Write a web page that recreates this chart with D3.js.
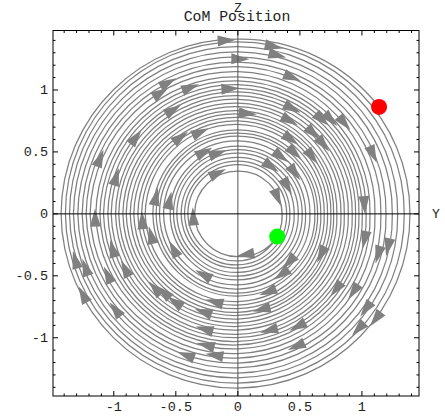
<!DOCTYPE html>
<html><head><meta charset="utf-8">
<script src="https://cdn.jsdelivr.net/npm/d3@7"></script>
<style>body{margin:0;background:#fff}</style>
</head><body>
<svg id="c" width="445" height="416"></svg>
<script>
const title = "CoM Position";
const xLabel = "Y";
const yLabel = "Z";
const xTicks = [-1, -0.5, 0, 0.5, 1];
const yTicks = [-1, -0.5, 0, 0.5, 1];
const xTickLabels = ["-1", "-0.5", "0", "0.5", "1"];
const yTickLabels = ["-1", "-0.5", "0", "0.5", "1"];
const startPoint = [0.317, -0.183];
const endPoint = [1.138, 0.863];
// radii where the clockwise spiral crosses each half-axis, turn by turn
const rBottom = [0.345,0.380,0.412,0.438,0.473,0.503,0.533,0.573,0.607,0.640,0.664,0.708,0.736,0.765,0.795,0.820,0.849,0.879,0.909,0.938,0.972,0.999,1.030,1.058,1.090,1.128,1.164,1.204,1.242,1.285,1.323,1.366,1.406];
const rLeft   = [0.349,0.403,0.430,0.457,0.492,0.519,0.546,0.599,0.632,0.659,0.685,0.747,0.776,0.806,0.839,0.868,0.900,0.927,0.960,0.986,1.021,1.048,1.083,1.112,1.145,1.191,1.223,1.255,1.290,1.325,1.357,1.390,1.425];
const rTop    = [0.345,0.398,0.425,0.456,0.490,0.519,0.546,0.590,0.627,0.651,0.677,0.722,0.750,0.778,0.806,0.833,0.866,0.893,0.925,0.954,0.985,1.012,1.043,1.073,1.105,1.148,1.188,1.225,1.268,1.307,1.349,1.389,1.410];
const rRight  = [0.357,0.393,0.419,0.454,0.487,0.519,0.546,0.581,0.621,0.643,0.669,0.696,0.723,0.750,0.772,0.798,0.831,0.858,0.890,0.922,0.949,0.976,1.003,1.034,1.065,1.105,1.153,1.194,1.245,1.288,1.341,1.387];
// arrowhead positions (Y, Z)
const arrowY = [-0.09,-0.56,-0.62,-0.38,-0.06,-0.52,-0.82,-0.46,-0.30,-0.27,-0.16,-0.16,-1.11,-0.98,-0.66,-0.55,-1.15,
  0.29,0.32,0.02,0.44,0.08,0.44,0.42,0.68,0.75,0.86,0.61,0.43,0.69,0.46,0.35,0.60,1.09,0.27,0.46,0.40,0.32,1.02,
  -0.77,-0.36,-1.31,-1.23,-1.25,-1.01,-1.05,-0.91,-0.70,-0.52,-0.99,-0.67,-0.60,-0.51,-0.28,-0.19,-0.28,-0.27,-0.26,-0.19,-0.42,
  0.06,0.41,0.35,0.67,1.02,1.21,1.13,0.79,0.93,1.03,1.11,0.97,0.24,0.19,0.48,0.25,0.47];
const arrowZ = [1.40,1.06,0.98,1.02,1.01,0.84,0.62,0.62,0.66,0.50,0.49,0.33,0.45,0.30,0.14,0.11,-0.03,
  1.35,1.28,1.25,1.10,0.81,0.85,0.75,0.76,0.76,0.73,0.65,0.60,0.56,0.49,0.46,0.46,0.48,0.38,0.33,0.22,0.13,0.07,
  -0.05,-0.02,-0.37,-0.43,-0.65,-0.28,-0.49,-0.44,-0.17,-0.28,-0.77,-0.60,-0.63,-0.71,-0.49,-0.71,-0.79,-0.93,-1.06,-1.14,-1.14,
  -0.33,-0.39,-0.49,-0.33,-0.21,-0.27,-0.33,-0.61,-0.63,-0.77,-0.85,-0.93,-0.63,-0.77,-0.91,-0.94,-1.07];

const svg = d3.select("#c");
const x = d3.scaleLinear().domain([-1.49, 1.46]).range([53, 419]);
const y = d3.scaleLinear().domain([-1.47, 1.48]).range([396, 30.5]);
const gray = "#808080";
const mono = "'Liberation Mono', 'DejaVu Sans Mono', monospace";

// spiral nodes (angle: mathematical, counter-clockwise from +Y; motion is clockwise)
const deg = Math.PI / 180;
const nodes = [];
nodes.push({t: Math.atan2(startPoint[1], startPoint[0]), r: Math.hypot(startPoint[0], startPoint[1])});
for (let k = 0; k < rBottom.length; k++) {
  nodes.push({t: (-90 - 360 * k) * deg, r: rBottom[k]});
  nodes.push({t: (-180 - 360 * k) * deg, r: rLeft[k]});
  nodes.push({t: (-270 - 360 * k) * deg, r: rTop[k]});
  if (k < rRight.length) nodes.push({t: (-360 - 360 * k) * deg, r: rRight[k]});
}
nodes.push({t: Math.atan2(endPoint[1], endPoint[0]) - 360 * rBottom.length * deg, r: Math.hypot(endPoint[0], endPoint[1])});

const p = d3.path();
p.moveTo(x(nodes[0].r * Math.cos(nodes[0].t)), y(nodes[0].r * Math.sin(nodes[0].t)));
for (let i = 1; i < nodes.length; i++) {
  const a = nodes[i - 1], b = nodes[i];
  const dt = b.t - a.t;
  const f = (4 / 3) * Math.tan(dt / 4);
  const dr = (b.r - a.r) / 3;
  const pa = [a.r * Math.cos(a.t), a.r * Math.sin(a.t)];
  const pb = [b.r * Math.cos(b.t), b.r * Math.sin(b.t)];
  const c1 = [pa[0] - f * a.r * Math.sin(a.t) + dr * Math.cos(a.t), pa[1] + f * a.r * Math.cos(a.t) + dr * Math.sin(a.t)];
  const c2 = [pb[0] + f * b.r * Math.sin(b.t) - dr * Math.cos(b.t), pb[1] - f * b.r * Math.cos(b.t) - dr * Math.sin(b.t)];
  p.bezierCurveTo(x(c1[0]), y(c1[1]), x(c2[0]), y(c2[1]), x(pb[0]), y(pb[1]));
}
svg.append("path")
  .attr("d", p.toString())
  .attr("fill", "none")
  .attr("stroke", gray)
  .attr("stroke-width", 1.25);

// arrowheads (oriented along the clockwise direction)
svg.append("g").selectAll("path").data(arrowY.map((v, i) => [v, arrowZ[i]])).join("path")
  .attr("d", "M9,0 L-9,-5.5 L-9,5.5 Z")
  .attr("fill", gray)
  .attr("transform", d => `translate(${x(d[0])},${y(d[1])}) rotate(${Math.atan2(d[0], d[1]) / deg})`);

// axes through origin
svg.append("line").attr("x1", x(0)).attr("x2", x(0)).attr("y1", y.range()[0]).attr("y2", y.range()[1])
  .attr("stroke", "#555").attr("stroke-width", 1);
svg.append("line").attr("x1", x.range()[0]).attr("x2", x.range()[1]).attr("y1", y(0)).attr("y2", y(0))
  .attr("stroke", "#000").attr("stroke-width", 1);

// frame
const fx0 = x.range()[0], fx1 = x.range()[1], fy0 = y.range()[1], fy1 = y.range()[0];
svg.append("rect").attr("x", fx0).attr("y", fy0).attr("width", fx1 - fx0).attr("height", fy1 - fy0)
  .attr("fill", "none").attr("stroke", "#000").attr("stroke-width", 1);

// ticks
const minor = d3.range(-14, 15).map(i => i / 10);
const tg = svg.append("g").attr("stroke", "#000").attr("stroke-width", 1);
minor.forEach(v => {
  const len = (Math.round(v * 10) % 5 === 0) ? 5 : 2.5;
  tg.append("line").attr("x1", x(v)).attr("x2", x(v)).attr("y1", fy1).attr("y2", fy1 - len);
  tg.append("line").attr("x1", x(v)).attr("x2", x(v)).attr("y1", fy0).attr("y2", fy0 + len);
  tg.append("line").attr("y1", y(v)).attr("y2", y(v)).attr("x1", fx0).attr("x2", fx0 + len);
  tg.append("line").attr("y1", y(v)).attr("y2", y(v)).attr("x1", fx1).attr("x2", fx1 - len);
});

// tick labels
svg.append("g").selectAll("text").data(xTicks).join("text")
  .attr("x", d => x(d)).attr("y", 410.5).attr("text-anchor", "middle")
  .attr("font-family", mono).attr("font-size", 13.5).attr("fill", "#222")
  .text((d, i) => xTickLabels[i]);
svg.append("g").selectAll("text").data(yTicks).join("text")
  .attr("x", 48).attr("y", d => y(d) + 4.5).attr("text-anchor", "end")
  .attr("font-family", mono).attr("font-size", 13.5).attr("fill", "#222")
  .text((d, i) => yTickLabels[i]);

// labels
svg.append("text").attr("x", 237).attr("y", 21).attr("text-anchor", "middle")
  .attr("font-family", mono).attr("font-size", 14.8).attr("fill", "#222").text(title);
svg.append("text").attr("x", 238).attr("y", 12).attr("text-anchor", "middle")
  .attr("font-family", mono).attr("font-size", 12.5).attr("fill", "#222").text(yLabel);
svg.append("text").attr("x", 436).attr("y", 218).attr("text-anchor", "middle")
  .attr("font-family", mono).attr("font-size", 13).attr("fill", "#222").text(xLabel);

// start / end points
svg.append("circle").attr("cx", x(endPoint[0])).attr("cy", y(endPoint[1])).attr("r", 8).attr("fill", "#ff0000");
svg.append("circle").attr("cx", x(startPoint[0])).attr("cy", y(startPoint[1])).attr("r", 8).attr("fill", "#00ff00");
</script>
</body></html>
